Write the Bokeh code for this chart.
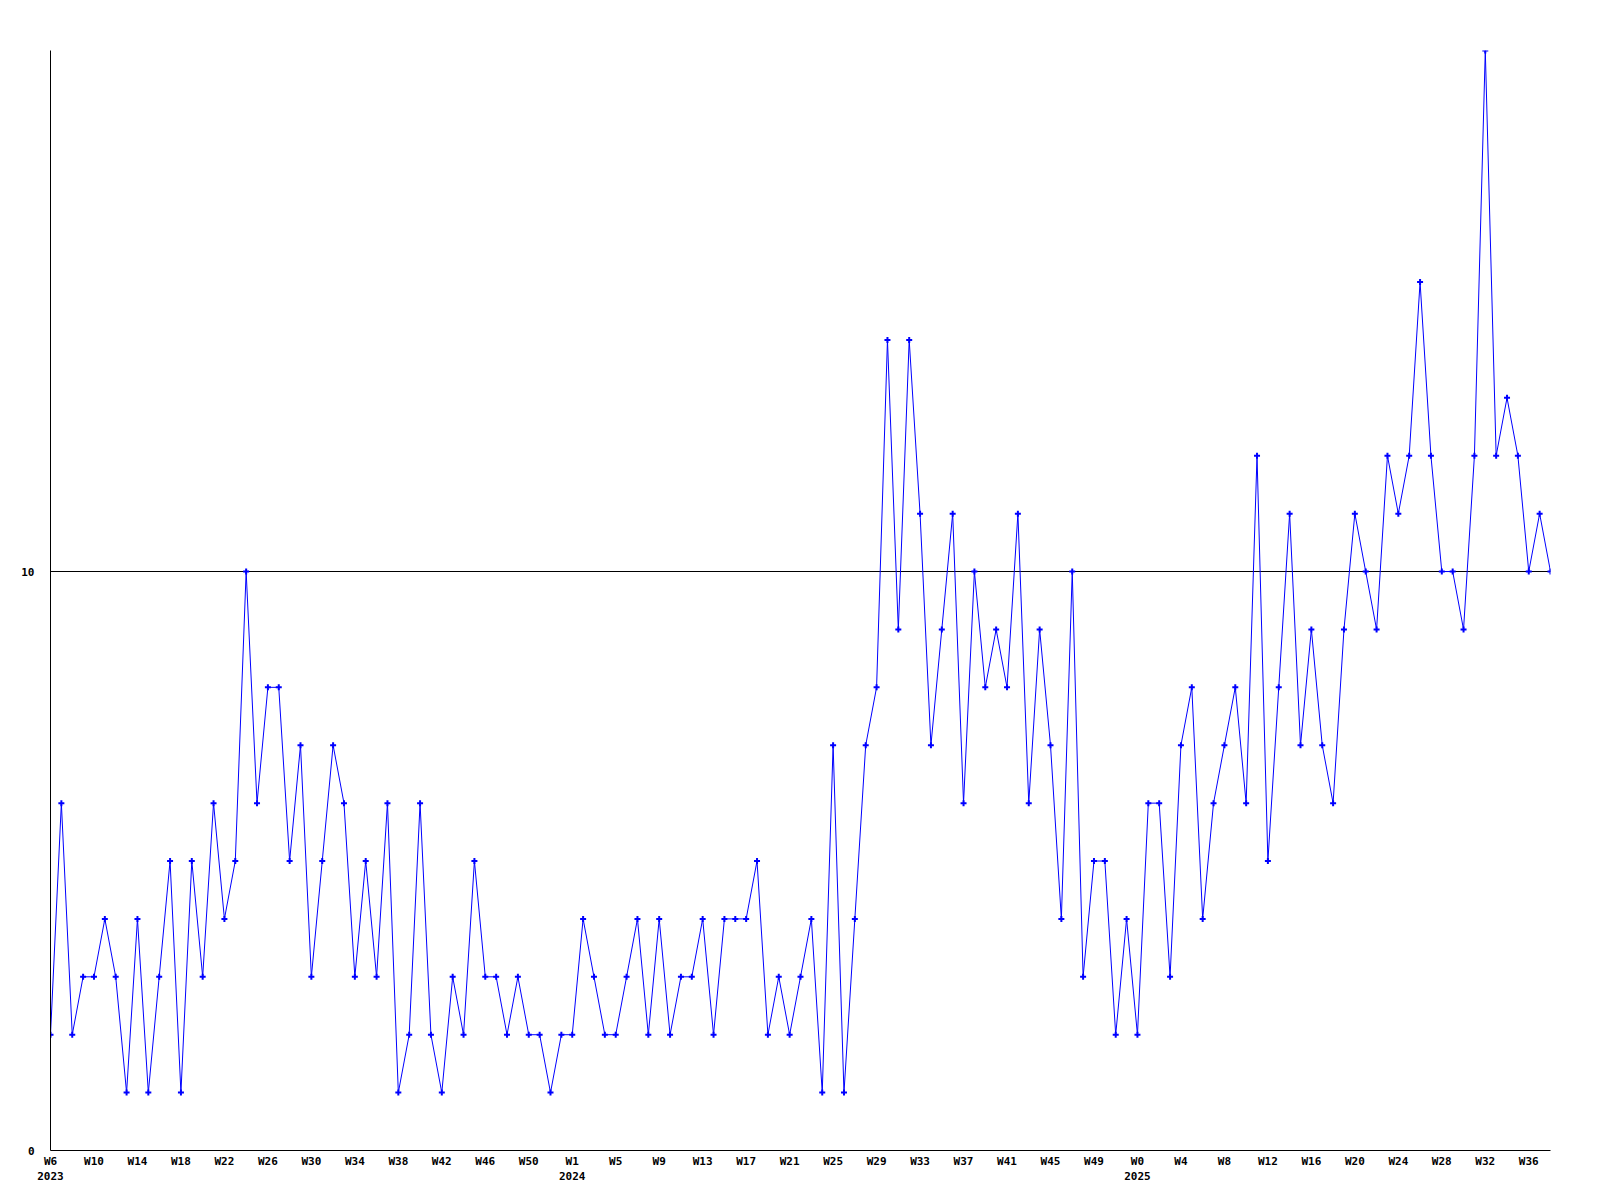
from bokeh.plotting import figure
from bokeh.models import Range1d, FixedTicker
from bokeh.embed import file_html
from bokeh.resources import INLINE

# Weekly values, 2023 W6 .. 2025 W38
values = [
    2, 6, 2, 3, 3, 4, 3, 1, 4, 1,
    3, 5, 1, 5, 3, 6, 4, 5, 10, 6,
    8, 8, 5, 7, 3, 5, 7, 6, 3, 5,
    3, 6, 1, 2, 6, 2, 1, 3, 2, 5,
    3, 3, 2, 3, 2, 2, 1, 2, 2, 4,
    3, 2, 2, 3, 4, 2, 4, 2, 3, 3,
    4, 2, 4, 4, 4, 5, 2, 3, 2, 3,
    4, 1, 7, 1, 4, 7, 8, 14, 9, 14,
    11, 7, 9, 11, 6, 10, 8, 9, 8, 11,
    6, 9, 7, 4, 10, 3, 5, 5, 2, 4,
    2, 6, 6, 3, 7, 8, 4, 6, 7, 8,
    6, 12, 5, 8, 11, 7, 9, 7, 6, 9,
    11, 10, 9, 12, 11, 12, 15, 12, 10, 10,
    9, 12, 19, 12, 13, 12, 10, 11, 10,
]

# Tick labels, one every 4 weeks
tick_labels = [
    "W6\n2023", "W10", "W14", "W18", "W22", "W26", "W30", "W34", "W38", "W42", "W46", "W50",
    "W1\n2024", "W5", "W9", "W13", "W17", "W21", "W25", "W29", "W33", "W37", "W41", "W45", "W49",
    "W0\n2025", "W4", "W8", "W12", "W16", "W20", "W24", "W28", "W32", "W36",
]
tick_step = 4

y_ticks = [0, 10]
y_max = 19

xs = list(range(len(values)))
tick_pos = [i * tick_step for i in range(len(tick_labels))]

p = figure(
    frame_width=1500, frame_height=1100,
    min_border_left=50, min_border_right=34, min_border_top=50, min_border_bottom=34,
    x_range=Range1d(0, len(values) - 1), y_range=Range1d(0, y_max),
    output_backend="svg", toolbar_location=None,
)
p.outline_line_color = None
p.background_fill_color = "white"
p.border_fill_color = "white"

font = "DejaVu Sans Mono"

p.xaxis.ticker = FixedTicker(ticks=tick_pos)
p.xaxis.major_label_overrides = {pos: lab for pos, lab in zip(tick_pos, tick_labels)}
p.xaxis.major_tick_line_color = None
p.xaxis.minor_tick_line_color = None
p.xaxis.major_tick_out = 0
p.xaxis.major_label_standoff = 4
p.xaxis.axis_line_color = "black"
p.xaxis.axis_line_width = 1
p.xaxis.major_label_text_font = font
p.xaxis.major_label_text_font_style = "bold"
p.xaxis.major_label_text_font_size = "11px"
p.xaxis.major_label_text_color = "black"

p.yaxis.ticker = FixedTicker(ticks=y_ticks)
p.yaxis.major_tick_line_color = None
p.yaxis.minor_tick_line_color = None
p.yaxis.major_tick_out = 0
p.yaxis.major_label_standoff = 16
p.yaxis.axis_line_color = "black"
p.yaxis.axis_line_width = 1
p.yaxis.major_label_text_font = font
p.yaxis.major_label_text_font_style = "bold"
p.yaxis.major_label_text_font_size = "11px"
p.yaxis.major_label_text_color = "black"

p.xgrid.grid_line_color = None
p.ygrid.ticker = FixedTicker(ticks=[10])
p.ygrid.grid_line_color = "black"
p.ygrid.grid_line_width = 1
p.ygrid.grid_line_alpha = 1.0

p.line(xs, values, line_color="#0000FF", line_width=1)
p.scatter(xs, values, marker="cross", size=6, line_color="#0000FF", line_width=2)

open("out.html", "w").write(file_html(p, INLINE))
